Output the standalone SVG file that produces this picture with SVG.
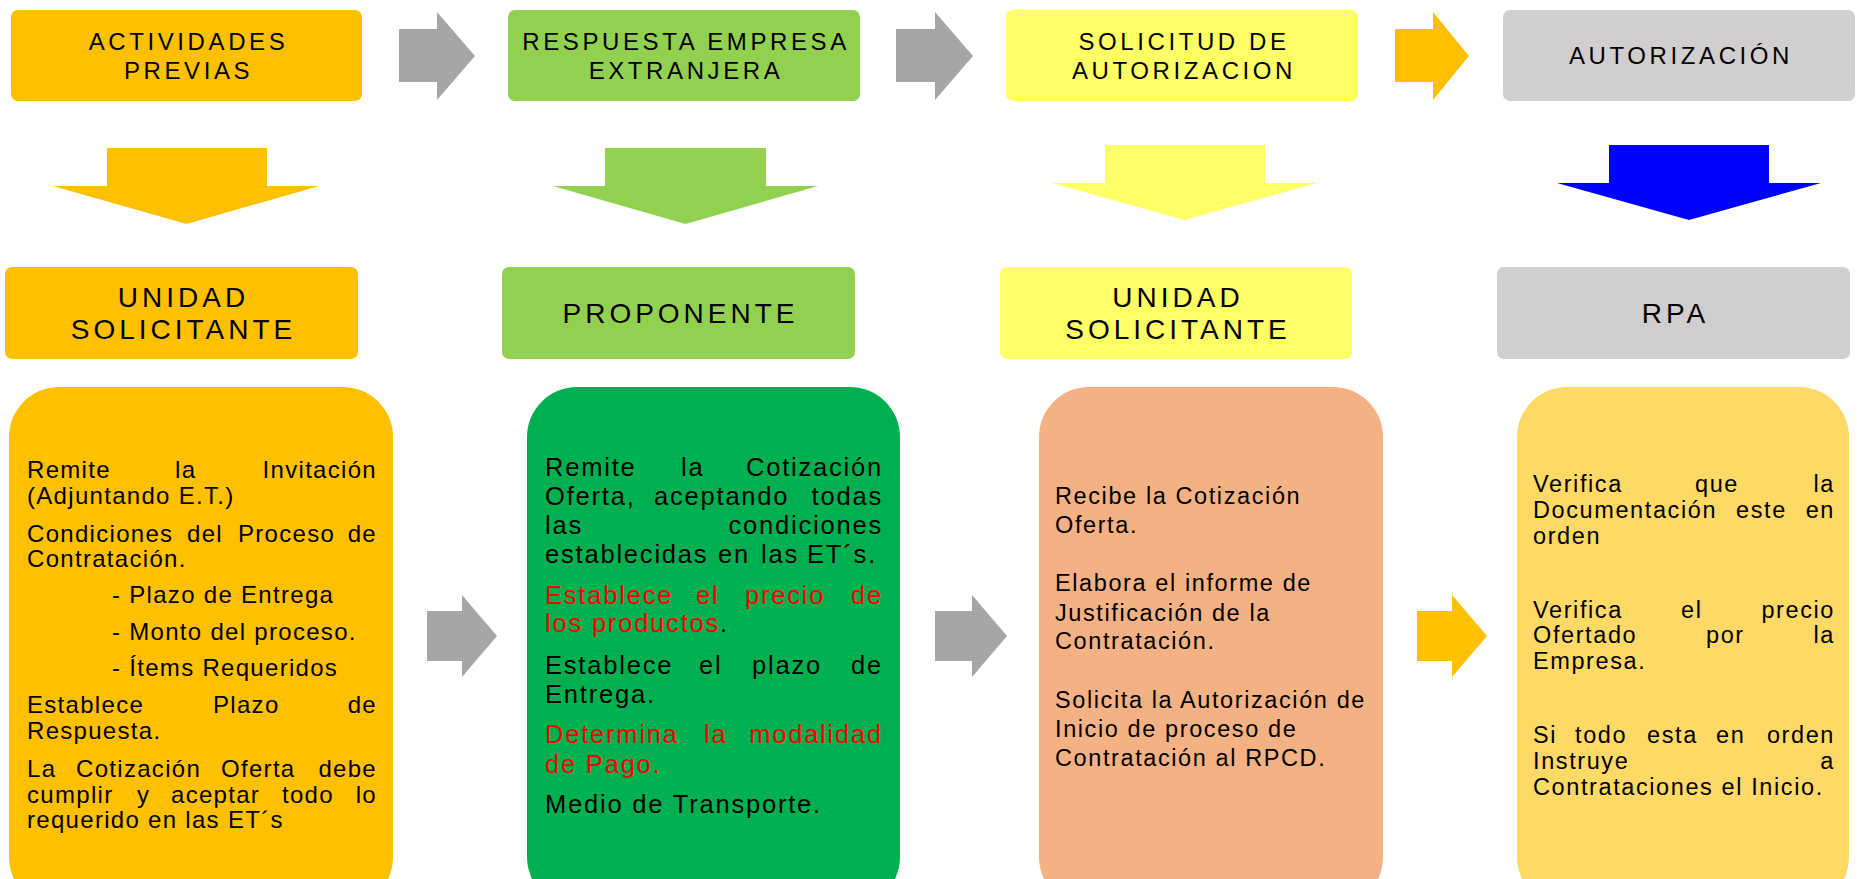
<svg xmlns="http://www.w3.org/2000/svg" width="1857" height="879" viewBox="0 0 1857 879">
<style>
text{font-family:"Liberation Sans",Arial,sans-serif;fill:#000}
.h1{font-size:24px;letter-spacing:3.6px;text-anchor:middle}
.h2{font-size:28px;letter-spacing:4px;text-anchor:middle}
.ta{font-size:24px;letter-spacing:1.3px}
.tb{font-size:25.5px;letter-spacing:1.8px}
.tc{font-size:23.5px;letter-spacing:1.6px}
.e{text-anchor:end}
.red{fill:#FF0000}
.gray{fill:#A6A6A6}
</style>
<rect width="1857" height="879" fill="#FFFFFF"/>
<g id="connectors">
<polygon class="gray" points="399,29 437,29 437,12 475,56 437,100 437,82 399,82"/>
<polygon class="gray" points="896,29 935,29 935,12 973,56 935,100 935,82 896,82"/>
<polygon fill="#FFC000" points="1395,29 1433,29 1433,12 1469,56 1433,100 1433,82 1395,82"/>
<polygon fill="#FFC000" points="107,148 267,148 267,186 319,186 186.5,224 53,186 107,186"/>
<polygon fill="#92D050" points="605,148 766,148 766,186 818,186 685.5,224 553,186 605,186"/>
<polygon fill="#FFFF66" points="1105,145 1265,145 1265,183 1317,183 1184.5,220 1052,183 1105,183"/>
<polygon fill="#0000FF" points="1609,145 1769,145 1769,183 1821,183 1689,220 1557,183 1609,183"/>
<polygon class="gray" points="427,611 462,611 462,595 497,636 462,677 462,661 427,661"/>
<polygon class="gray" points="935,611 972,611 972,595 1007,636 972,677 972,661 935,661"/>
<polygon fill="#FFC000" points="1417,611 1452,611 1452,595 1487,636 1452,677 1452,661 1417,661"/>
</g>
<g id="actividades-previas">
<rect x="11" y="10" width="351" height="91" rx="7" fill="#FFC000"/>
<text class="h1" x="188.5" y="50">ACTIVIDADES</text>
<text class="h1" x="188.5" y="79">PREVIAS</text>
</g>
<g id="respuesta-empresa">
<rect x="508" y="10" width="352" height="91" rx="7" fill="#92D050"/>
<text class="h1" x="686" y="50">RESPUESTA EMPRESA</text>
<text class="h1" x="686" y="79">EXTRANJERA</text>
</g>
<g id="solicitud-autorizacion">
<rect x="1006" y="10" width="352" height="91" rx="7" fill="#FFFF66"/>
<text class="h1" x="1184" y="50">SOLICITUD DE</text>
<text class="h1" x="1184" y="79">AUTORIZACION</text>
</g>
<g id="autorizacion">
<rect x="1503" y="10" width="352" height="91" rx="7" fill="#D0CECE"/>
<text class="h1" x="1681" y="64">AUTORIZACIÓN</text>
</g>
<g id="unidad-solicitante-1">
<rect x="5" y="267" width="353" height="92" rx="7" fill="#FFC000"/>
<text class="h2" x="183.5" y="307">UNIDAD</text>
<text class="h2" x="183.5" y="339">SOLICITANTE</text>
</g>
<g id="proponente">
<rect x="502" y="267" width="353" height="92" rx="7" fill="#92D050"/>
<text class="h2" x="680.5" y="323">PROPONENTE</text>
</g>
<g id="unidad-solicitante-2">
<rect x="1000" y="267" width="352" height="92" rx="7" fill="#FFFF66"/>
<text class="h2" x="1178" y="307">UNIDAD</text>
<text class="h2" x="1178" y="339">SOLICITANTE</text>
</g>
<g id="rpa">
<rect x="1497" y="267" width="353" height="92" rx="7" fill="#D0CECE"/>
<text class="h2" x="1675.5" y="323">RPA</text>
</g>
<g id="detalle-unidad-solicitante">
<rect x="9" y="387" width="384" height="520" rx="50" fill="#FFC000"/>
<text class="ta" x="27" y="478">Remite</text><text class="ta" x="175" y="478">la</text><text class="ta e" x="377" y="478">Invitación</text>
<text class="ta" x="27" y="504">(Adjuntando E.T.)</text>
<text class="ta" x="27" y="542">Condiciones</text><text class="ta" x="187" y="542">del</text><text class="ta" x="238" y="542">Proceso</text><text class="ta e" x="377" y="542">de</text>
<text class="ta" x="27" y="567">Contratación.</text>
<text class="ta" x="112" y="603">- Plazo de Entrega</text>
<text class="ta" x="112" y="640">- Monto del proceso.</text>
<text class="ta" x="112" y="676">- Ítems Requeridos</text>
<text class="ta" x="27" y="713">Establece</text><text class="ta" x="213" y="713">Plazo</text><text class="ta e" x="377" y="713">de</text>
<text class="ta" x="27" y="739">Respuesta.</text>
<text class="ta" x="27" y="777">La</text><text class="ta" x="76" y="777">Cotización</text><text class="ta" x="221" y="777">Oferta</text><text class="ta e" x="377" y="777">debe</text>
<text class="ta" x="27" y="803">cumplir</text><text class="ta" x="137" y="803">y</text><text class="ta" x="171" y="803">aceptar</text><text class="ta" x="282" y="803">todo</text><text class="ta e" x="377" y="803">lo</text>
<text class="ta" x="27" y="828">requerido en las ET´s</text>
</g>
<g id="detalle-proponente">
<rect x="527" y="387" width="373" height="520" rx="50" fill="#00B050"/>
<text class="tb" x="545" y="476">Remite</text><text class="tb" x="681" y="476">la</text><text class="tb e" x="883" y="476">Cotización</text>
<text class="tb" x="545" y="505">Oferta,</text><text class="tb" x="654" y="505">aceptando</text><text class="tb e" x="883" y="505">todas</text>
<text class="tb" x="545" y="534">las</text><text class="tb e" x="883" y="534">condiciones</text>
<text class="tb" x="545" y="563">establecidas</text><text class="tb" x="718" y="563">en</text><text class="tb" x="761" y="563">las</text><text class="tb" x="807" y="563">ET´s.</text>
<text class="tb red" x="545" y="604">Establece</text><text class="tb red" x="696" y="604">el</text><text class="tb red" x="745" y="604">precio</text><text class="tb red e" x="883" y="604">de</text>
<text class="tb" x="545" y="632"><tspan class="red">los productos</tspan>.</text>
<text class="tb" x="545" y="674">Establece</text><text class="tb" x="699" y="674">el</text><text class="tb" x="752" y="674">plazo</text><text class="tb e" x="883" y="674">de</text>
<text class="tb" x="545" y="703">Entrega.</text>
<text class="tb red" x="545" y="743">Determina</text><text class="tb red" x="704" y="743">la</text><text class="tb red e" x="883" y="743">modalidad</text>
<text class="tb red" x="545" y="773">de Pago.</text>
<text class="tb" x="545" y="813">Medio de Transporte.</text>
</g>
<g id="detalle-unidad-solicitante-2">
<rect x="1039" y="387" width="344" height="520" rx="50" fill="#F4B183"/>
<text class="tc" x="1055" y="504">Recibe la Cotización</text>
<text class="tc" x="1055" y="533">Oferta.</text>
<text class="tc" x="1055" y="591">Elabora el informe de</text>
<text class="tc" x="1055" y="621">Justificación de la</text>
<text class="tc" x="1055" y="649">Contratación.</text>
<text class="tc" x="1055" y="708">Solicita la Autorización de</text>
<text class="tc" x="1055" y="737">Inicio de proceso de</text>
<text class="tc" x="1055" y="766">Contratación al RPCD.</text>
</g>
<g id="detalle-rpa">
<rect x="1517" y="387" width="332" height="520" rx="50" fill="#FFD966"/>
<text class="tc" x="1533" y="492">Verifica</text><text class="tc" x="1695" y="492">que</text><text class="tc e" x="1835" y="492">la</text>
<text class="tc" x="1533" y="518">Documentación</text><text class="tc" x="1736" y="518">este</text><text class="tc e" x="1835" y="518">en</text>
<text class="tc" x="1533" y="544">orden</text>
<text class="tc" x="1533" y="618">Verifica</text><text class="tc" x="1681" y="618">el</text><text class="tc e" x="1835" y="618">precio</text>
<text class="tc" x="1533" y="643">Ofertado</text><text class="tc" x="1706" y="643">por</text><text class="tc e" x="1835" y="643">la</text>
<text class="tc" x="1533" y="669">Empresa.</text>
<text class="tc" x="1533" y="743">Si</text><text class="tc" x="1575" y="743">todo</text><text class="tc" x="1647" y="743">esta</text><text class="tc" x="1716" y="743">en</text><text class="tc e" x="1835" y="743">orden</text>
<text class="tc" x="1533" y="769">Instruye</text><text class="tc e" x="1835" y="769">a</text>
<text class="tc" x="1533" y="795">Contrataciones el Inicio.</text>
</g>
</svg>
